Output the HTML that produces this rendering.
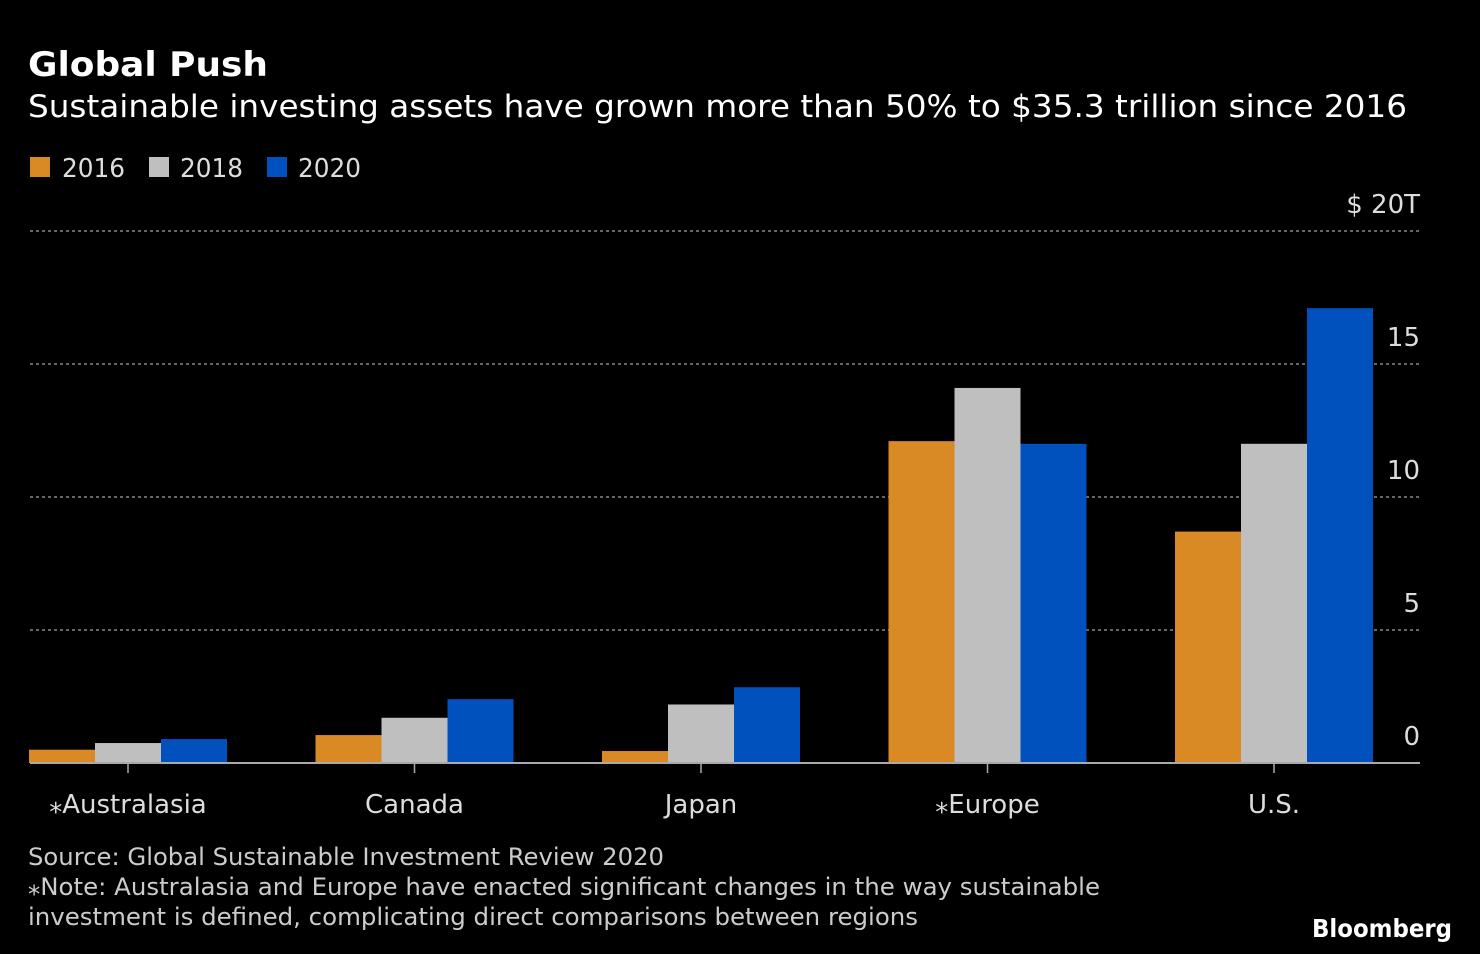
<!DOCTYPE html>
<html><head><meta charset="utf-8"><style>
body{margin:0;background:#000;width:1480px;height:954px;overflow:hidden;font-family:"DejaVu Sans","Liberation Sans",sans-serif;color:#fff}
svg text{font-family:"DejaVu Sans","Liberation Sans",sans-serif}
</style></head><body>
<svg width="1480" height="954" style="position:absolute;left:0;top:0">
<text x="28" y="76" font-size="34" font-weight="bold" fill="#fff" textLength="240" lengthAdjust="spacingAndGlyphs">Global Push</text>
<text x="28" y="117" font-size="31" fill="#fff" textLength="1379" lengthAdjust="spacingAndGlyphs">Sustainable investing assets have grown more than 50% to $35.3 trillion since 2016</text>
<g font-size="26" fill="#ddd">
<rect x="30" y="157" width="20" height="20" fill="#d98a25"/>
<text x="62" y="177" textLength="63" lengthAdjust="spacingAndGlyphs">2016</text>
<rect x="149" y="157" width="20" height="20" fill="#bfbfbf"/>
<text x="180" y="177" textLength="63" lengthAdjust="spacingAndGlyphs">2018</text>
<rect x="267" y="157" width="20" height="20" fill="#0050bd"/>
<text x="298" y="177" textLength="63" lengthAdjust="spacingAndGlyphs">2020</text>
</g>
<g id="grid"></g><g id="bars"></g><g id="xaxis"></g>
<g font-size="24" fill="#ccc">
<text x="28" y="865" textLength="636" lengthAdjust="spacingAndGlyphs">Source: Global Sustainable Investment Review 2020</text>
<text x="28" y="895" textLength="1072" lengthAdjust="spacingAndGlyphs">⁎Note: Australasia and Europe have enacted significant changes in the way sustainable</text>
<text x="28" y="925" textLength="890" lengthAdjust="spacingAndGlyphs">investment is defined, complicating direct comparisons between regions</text>
</g>
<text x="1312" y="937" font-size="25" font-weight="bold" fill="#fff" textLength="140" lengthAdjust="spacingAndGlyphs">Bloomberg</text>
</svg>
<script>
const categories=["⁎Australasia","Canada","Japan","⁎Europe","U.S."];
const v2016=[0.5,1.05,0.45,12.1,8.7];
const v2018=[0.75,1.7,2.2,14.1,12.0];
const v2020=[0.9,2.4,2.85,12.0,17.1];
const yTicks=[0,5,10,15,20];
const yTickLabels=["0","5","10","15","$ 20T"];
const NS="http://www.w3.org/2000/svg";
const y=v=>763-v*26.6;
const gx=i=>128+i*286.5;
function mk(tag,at,parent){const e=document.createElementNS(NS,tag);for(const k in at)e.setAttribute(k,at[k]);document.getElementById(parent).appendChild(e);return e;}
yTicks.forEach((t,i)=>{
  if(t>0){const l=mk('line',{x1:30,x2:1420,y1:y(t),y2:y(t),stroke:'#888','stroke-width':1.5,'stroke-dasharray':'3,3'},'grid');
  
  }
  const tx=mk('text',{x:1420,y:y(t)-18,'font-size':26,fill:'#ddd','text-anchor':'end'},'grid');
  tx.textContent=yTickLabels[i];
  
  
});
const series=[[v2016,'#d98a25','2016'],[v2018,'#bfbfbf','2018'],[v2020,'#0050bd','2020']];
categories.forEach((c,i)=>{
  series.forEach((s,j)=>{
    const v=s[0][i];
    const r=mk('rect',{x:gx(i)-99+j*66,y:y(v),width:66,height:763-y(v),fill:s[1]},'bars');
    
    
  });
  const tk=mk('line',{x1:gx(i),x2:gx(i),y1:763,y2:773,stroke:'#aaa','stroke-width':1.5},'xaxis');
  
  
  const lb=mk('text',{x:gx(i),y:813,'font-size':26,fill:'#ddd','text-anchor':'middle'},'xaxis');
  lb.textContent=c;
  
  
});
const base=mk('line',{x1:30,x2:1420,y1:763,y2:763,stroke:'#aaa','stroke-width':2},'xaxis');


</script>
</body></html>
